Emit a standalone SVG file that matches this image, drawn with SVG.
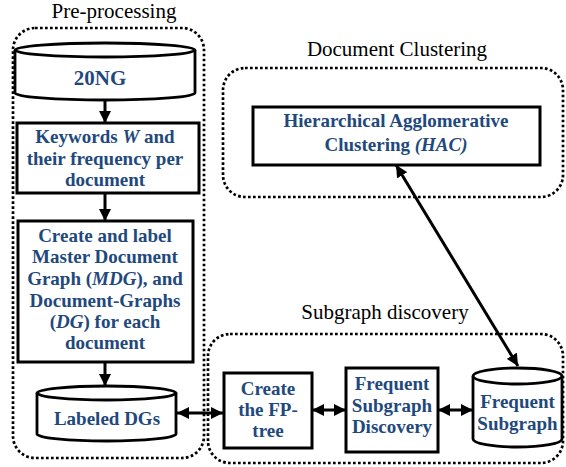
<svg xmlns="http://www.w3.org/2000/svg" width="566" height="467" viewBox="0 0 566 467">
<style>
text{font-family:'Liberation Serif','Times New Roman',Tinos,'DejaVu Serif',serif}
.title{font-size:21px;fill:#000;text-anchor:middle}
.lbl{font-size:19px;font-weight:bold;fill:#1F497D;text-anchor:middle}
.box{fill:#fff;stroke:#000;stroke-width:3}
.cyl{fill:#fff;stroke:#000;stroke-width:2.8}
.grp{fill:none;stroke:#000;stroke-width:2.7;stroke-dasharray:2.7 2.3}
.con{stroke:#000;stroke-width:3;fill:none}
</style>
<defs>
<marker id="ah" viewBox="0 0 10 10" refX="10" refY="5" markerWidth="12" markerHeight="12" markerUnits="userSpaceOnUse" orient="auto-start-reverse">
<path d="M0,0 L10,5 L0,10 z" fill="#000"/>
</marker>
</defs>
<g id="containers">
<rect class="grp" x="13" y="28" width="191" height="430" rx="22"/>
<text class="title" x="114" y="18">Pre-processing</text>
<rect class="grp" x="223" y="68" width="340" height="129" rx="22"/>
<text class="title" x="397" y="56">Document Clustering</text>
<rect class="grp" x="208" y="334" width="355" height="129" rx="22"/>
<text class="title" x="385" y="319">Subgraph discovery</text>
</g>
<g id="connectors">
<line class="con" x1="105" y1="100" x2="105" y2="123" marker-end="url(#ah)"/>
<line class="con" x1="105" y1="193" x2="105" y2="221" marker-end="url(#ah)"/>
<line class="con" x1="105" y1="362" x2="105" y2="386" marker-end="url(#ah)"/>
<line class="con" x1="177" y1="413" x2="223" y2="413" marker-start="url(#ah)" marker-end="url(#ah)"/>
<line class="con" x1="312" y1="410" x2="346" y2="410" marker-start="url(#ah)" marker-end="url(#ah)"/>
<line class="con" x1="438" y1="410" x2="473" y2="410" marker-start="url(#ah)" marker-end="url(#ah)"/>
<line class="con" x1="396" y1="165" x2="518" y2="366" marker-start="url(#ah)" marker-end="url(#ah)"/>
</g>
<g id="n20ng">
<path class="cyl" d="M15,50 L15,93 A90,7 0 0 0 195,93 L195,50"/>
<ellipse class="cyl" cx="105" cy="50" rx="90" ry="7"/>
<text class="lbl" x="100" y="85" style="font-size:21px">20NG</text>
</g>
<g id="keywords">
<rect class="box" x="17" y="123" width="182" height="70"/>
<text class="lbl" x="105" y="143">Keywords <tspan font-style="italic">W</tspan> and</text>
<text class="lbl" x="105" y="165">their frequency per</text>
<text class="lbl" x="105" y="186">document</text>
</g>
<g id="create-mdg">
<rect class="box" x="18" y="221" width="175" height="141"/>
<text class="lbl" x="105" y="242">Create and label</text>
<text class="lbl" x="105" y="263">Master Document</text>
<text class="lbl" x="105" y="285">Graph (<tspan font-style="italic">MDG</tspan>), and</text>
<text class="lbl" x="105" y="307">Document-Graphs</text>
<text class="lbl" x="105" y="328">(<tspan font-style="italic">DG</tspan>) for each</text>
<text class="lbl" x="105" y="349">document</text>
</g>
<g id="labeled-dgs">
<path class="cyl" d="M37,393 L37,434 A69.5,7 0 0 0 176,434 L176,393"/>
<ellipse class="cyl" cx="106.5" cy="393" rx="69.5" ry="7"/>
<text class="lbl" x="107" y="425">Labeled DGs</text>
</g>
<g id="hac">
<rect class="box" x="253" y="107" width="287" height="58"/>
<text class="lbl" x="396" y="127">Hierarchical Agglomerative</text>
<text class="lbl" x="396" y="151">Clustering <tspan font-style="italic">(HAC)</tspan></text>
</g>
<g id="fp-tree">
<rect class="box" x="224" y="373" width="88" height="75"/>
<text class="lbl" x="268" y="395">Create</text>
<text class="lbl" x="268" y="416">the FP-</text>
<text class="lbl" x="268" y="437">tree</text>
</g>
<g id="fsd">
<rect class="box" x="346" y="368" width="92" height="84"/>
<text class="lbl" x="392" y="390">Frequent</text>
<text class="lbl" x="392" y="412">Subgraph</text>
<text class="lbl" x="392" y="433">Discovery</text>
</g>
<g id="frequent-subgraph">
<path class="cyl" d="M473,376 L473,439 A44.5,8 0 0 0 562,439 L562,376"/>
<ellipse class="cyl" cx="517.5" cy="376" rx="44.5" ry="8"/>
<text class="lbl" x="517.5" y="408">Frequent</text>
<text class="lbl" x="517.5" y="430">Subgraph</text>
</g>
</svg>
